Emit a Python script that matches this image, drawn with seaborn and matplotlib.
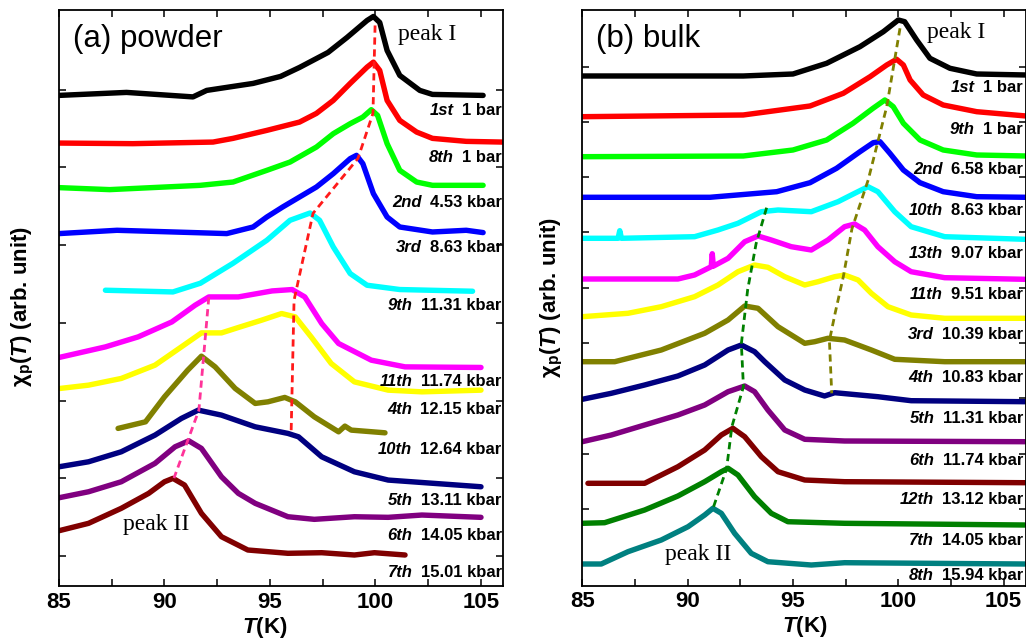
import numpy as np
import pandas as pd
import matplotlib
matplotlib.use("Agg")
import matplotlib.pyplot as plt
import seaborn as sns
from matplotlib.offsetbox import TextArea, HPacker, AnnotationBbox

# ---------------- data : panel (a) powder ----------------
a_black_T = [85.0, 88.2, 91.35, 92.0, 93.25, 94.2, 95.5, 96.4, 97.75, 98.65, 99.6, 99.9, 100.2, 100.55, 101.15, 102.1, 102.7, 105.1]
a_black_y = [491.5, 494.5, 490, 496.5, 500.5, 503.5, 510.5, 519.5, 534.5, 549.5, 566.5, 570.5, 564.5, 536.5, 511.5, 496.5, 492.5, 491.5]
a_red_T = [85.0, 88.5, 92.3, 93.25, 94.85, 96.4, 97.2, 98.0, 98.8, 99.6, 99.9, 100.2, 100.55, 101.15, 101.95, 102.7, 104.3, 106.0]
a_red_y = [443.8, 443.2, 444.8, 448.5, 456.5, 464.8, 473.5, 486.5, 503.5, 519.8, 524.8, 516.5, 486.5, 466.5, 454.8, 448.5, 445.5, 444.8]
a_green_T = [85.0, 87.4, 91.7, 93.25, 94.85, 95.95, 97.2, 98.0, 98.8, 99.4, 99.8, 100.1, 100.55, 101.15, 101.95, 102.7, 105.1]
a_green_y = [399.2, 397.2, 401.5, 404.8, 416.5, 424.8, 439.8, 453.2, 463.2, 469.8, 477.2, 471.5, 443.2, 416.5, 404.8, 401.5, 401.5]
a_blue_T = [85.0, 87.75, 92.95, 94.2, 94.85, 95.6, 96.4, 97.2, 98.0, 98.8, 99.1, 99.4, 99.9, 100.55, 101.15, 102.7, 104.3, 105.1]
a_blue_y = [353.2, 356.5, 353.2, 359.8, 369.8, 379.8, 389.8, 399.8, 413.2, 428.2, 431.5, 423.2, 393.2, 369.8, 359.8, 354.8, 356.5, 354.2]
a_cyan_T = [87.2, 90.4, 91.7, 93.25, 94.85, 95.95, 96.9, 97.35, 98.0, 98.8, 99.6, 101.15, 104.6]
a_cyan_y = [296.5, 294.8, 303.5, 323.5, 346.5, 366.5, 373.8, 366.5, 339.8, 313.2, 301.5, 297.2, 295.5]
a_magenta_T = [85.0, 87.2, 88.75, 90.35, 91.45, 92.1, 93.5, 95.1, 96.05, 96.65, 97.45, 98.25, 99.8, 101.4, 105.0]
a_magenta_y = [229.2, 239.8, 249.8, 264.8, 281.5, 289.8, 289.8, 295.8, 297.2, 289.8, 263.2, 243.2, 226.5, 219.8, 219.2]
a_yellow_T = [85.05, 86.4, 87.95, 89.55, 90.8, 91.75, 92.7, 93.5, 94.6, 95.55, 96.2, 96.95, 97.9, 99.0, 100.6, 102.2, 105.0]
a_yellow_y = [198.2, 201.5, 208.2, 221.5, 239.8, 253.8, 253.8, 259.2, 266.5, 273.2, 269.8, 249.8, 223.2, 204.8, 196.5, 194.8, 196.5]
a_olive_T = [87.8, 89.1, 90.0, 91.1, 91.75, 92.4, 93.35, 94.3, 94.9, 95.7, 96.2, 97.1, 98.25, 98.55, 98.85, 100.45]
a_olive_y = [158.2, 164.8, 189.8, 216.5, 230.5, 219.8, 198.2, 183.2, 184.8, 189.2, 184.8, 169.8, 154.8, 160.5, 156.5, 153.8]
a_navy_T = [85.0, 86.4, 87.95, 89.55, 90.8, 91.6, 92.7, 94.3, 95.85, 96.35, 97.45, 99.0, 100.6, 105.0]
a_navy_y = [119.8, 124.8, 134.8, 151.5, 168.2, 176.5, 171.5, 159.8, 153.2, 149.8, 129.8, 114.8, 106.5, 99.8]
a_purple_T = [85.0, 86.4, 87.95, 89.55, 90.5, 91.15, 91.75, 92.7, 93.5, 94.3, 95.85, 97.1, 99.0, 100.6, 102.2, 105.0]
a_purple_y = [88.8, 94.8, 104.8, 123.2, 139.8, 145.8, 138.2, 109.8, 93.2, 83.2, 69.8, 67.2, 69.8, 69.2, 71.5, 69.2]
a_maroon_T = [85.0, 86.4, 87.95, 89.25, 90.0, 90.4, 90.95, 91.75, 92.7, 93.95, 95.85, 97.45, 99.0, 99.95, 101.4]
a_maroon_y = [55.8, 63.2, 78.2, 93.2, 104.8, 108.2, 101.5, 73.2, 49.8, 36.5, 33.2, 33.8, 31.5, 33.8, 31.5]

a_peak1_T = [99.98, 99.88, 99.17, 97.04, 96.14, 96.0]
a_peak1_y = [561.5, 473.5, 428.5, 373.5, 286.5, 152.5]
a_peak2_T = [92.1, 91.63, 90.45]
a_peak2_y = [289.5, 176.5, 108.5]

a_run = ["1st", "8th", "2nd", "3rd", "9th", "11th", "4th", "10th", "5th", "6th", "7th"]
a_pressure = ["1 bar", "1 bar", "4.53 kbar", "8.63 kbar", "11.31 kbar", "11.74 kbar",
              "12.15 kbar", "12.64 kbar", "13.11 kbar", "14.05 kbar", "15.01 kbar"]
a_label_y = [476.5, 429.5, 384.5, 339.5, 281.5, 204.8, 177.2, 137.2, 86.5, 51.5, 13.8]
a_colors = ["#000000", "#ff0000", "#00ff00", "#0000ff", "#00ffff", "#ff00ff",
            "#ffff00", "#808000", "#000080", "#800080", "#800000"]

# ---------------- data : panel (b) bulk ----------------
b_black_T = [85.0, 92.64, 95.0, 96.6, 98.18, 99.29, 100.0, 100.3, 100.87, 101.5, 102.45, 103.72, 106.06]
b_black_y = [509.7, 509.7, 511.7, 522.4, 539, 554, 565.7, 564, 545.7, 527.4, 517.4, 511.7, 510.7]
b_red_T = [85.0, 92.64, 95.81, 97.39, 98.66, 99.45, 99.92, 100.24, 100.56, 101.18, 102.13, 103.72, 106.06]
b_red_y = [469, 470.7, 479.7, 492.4, 509, 520.7, 526.4, 520.7, 505.7, 490.7, 480.7, 474, 469.7]
b_green_T = [85.0, 92.64, 95.0, 96.6, 97.85, 98.8, 99.36, 99.76, 100.24, 101.03, 102.13, 103.72, 106.06]
b_green_y = [429, 429.7, 435.7, 445.7, 462.4, 477.4, 485.7, 479, 462.4, 445.7, 435.7, 430.7, 429.7]
b_blue_T = [85.0, 91.06, 94.23, 95.81, 97.07, 98.18, 98.81, 99.13, 99.6, 100.24, 101.03, 102.13, 103.72, 106.06]
b_blue_y = [388.4, 388.4, 394, 403, 417.4, 434, 443, 444, 432.4, 415.7, 403, 394, 389, 388.4]
b_cyan_T = [85.0, 86.7, 86.78, 86.86, 90.33, 91.44, 92.39, 93.5, 94.29, 95.87, 97.14, 97.93, 98.56, 99.03, 99.83, 100.61, 102.2, 106.0]
b_cyan_y = [347.4, 347.4, 355, 347.4, 349, 355.7, 362.4, 374, 375.7, 374, 384, 392.4, 399, 394, 374, 359, 349, 346.4]
b_magenta_T = [85.0, 89.54, 90.33, 91.12, 91.17, 91.22, 91.92, 92.71, 93.34, 93.97, 94.92, 95.87, 96.66, 97.45, 97.93, 98.4, 99.03, 99.83, 100.61, 102.2, 106.0]
b_magenta_y = [306.7, 306.7, 310.7, 319, 332, 319.5, 327.4, 344, 349.7, 345.7, 339, 335.7, 345.7, 359, 361.7, 355.7, 339, 324, 314, 308, 306.4]
b_yellow_T = [85.0, 87.17, 88.75, 90.33, 91.44, 92.39, 93.18, 93.81, 94.61, 95.56, 96.19, 96.98, 97.45, 98.09, 98.72, 99.51, 100.61, 102.2, 106.0]
b_yellow_y = [269, 272.4, 279, 289, 300.7, 314, 320.7, 318.4, 309, 300.7, 304, 309, 310.7, 305.7, 292.4, 279, 270.7, 267.4, 267.4]
b_olive_T = [85.0, 86.54, 88.75, 90.81, 91.92, 92.71, 93.34, 94.29, 95.56, 96.03, 96.66, 97.45, 98.72, 99.83, 102.2, 106.0]
b_olive_y = [224, 224, 235.7, 252.4, 265.7, 279.7, 277.4, 259, 242.4, 244, 247.4, 245.7, 235.7, 226.4, 224, 224]
b_navy_T = [85.0, 86.38, 87.96, 89.54, 90.81, 91.92, 92.55, 93.18, 93.66, 94.61, 95.56, 96.5, 96.98, 99.03, 100.61, 106.0]
b_navy_y = [186.4, 192.4, 200.7, 209.7, 220.7, 235.7, 240.7, 234, 224, 205.7, 195.7, 189.7, 193, 189, 185, 184]
b_purple_T = [85.0, 86.38, 87.96, 89.54, 90.81, 91.92, 92.71, 93.18, 93.81, 94.61, 95.56, 97.45, 106.0]
b_purple_y = [144, 150.7, 160.7, 170.7, 180.7, 194, 199.7, 194, 175.7, 155.7, 146.4, 144.7, 144]
b_maroon_T = [85.27, 87.96, 89.54, 90.81, 91.6, 92.15, 92.71, 93.5, 94.29, 95.56, 97.45, 106.0]
b_maroon_y = [102.4, 102.4, 119, 135.7, 150.7, 157.4, 149, 129, 114, 105.7, 104, 103]
b_dgreen_T = [85.0, 86.06, 87.96, 89.54, 90.81, 91.6, 91.92, 92.39, 93.18, 93.97, 94.76, 97.45, 106.0]
b_dgreen_y = [62.4, 63, 75.7, 89.7, 104, 114, 117.4, 110.7, 89, 72.4, 64, 62.4, 60.7]
b_teal_T = [85.0, 85.9, 87.17, 88.75, 90.02, 90.81, 91.2, 91.6, 92.23, 93.02, 93.81, 95.87, 97.45, 106.0]
b_teal_y = [21.7, 21.7, 34, 45.7, 59, 70.7, 77.4, 72.4, 52.4, 32.4, 24, 20.7, 23, 21.7]

b_peak1_T = [100.08, 99.45, 98.57, 97.8, 97.39, 97.0, 96.73, 96.84]
b_peak1_y = [557.4, 479, 405.7, 357, 309, 272.4, 245, 192.4]
b_peak2_T = [93.75, 93.25, 92.85, 92.55, 92.65, 92.1, 91.85, 91.2]
b_peak2_y = [378, 342, 296, 242, 199, 159, 117, 77]

b_run = ["1st", "9th", "2nd", "10th", "13th", "11th", "3rd", "4th", "5th", "6th", "12th", "7th", "8th"]
b_pressure = ["1 bar", "1 bar", "6.58 kbar", "8.63 kbar", "9.07 kbar", "9.51 kbar", "10.39 kbar",
              "10.83 kbar", "11.31 kbar", "11.74 kbar", "13.12 kbar", "14.05 kbar", "15.94 kbar"]
b_label_y = [498.4, 455.7, 415.7, 375, 331.7, 290.7, 250.7, 208.4, 167.4, 125.7, 86.4, 45, 10.7]
b_colors = ["#000000", "#ff0000", "#00ff00", "#0000ff", "#00ffff", "#ff00ff", "#ffff00",
            "#808000", "#000080", "#800080", "#800000", "#008000", "#008080"]

a_curves = [(a_black_T, a_black_y), (a_red_T, a_red_y), (a_green_T, a_green_y), (a_blue_T, a_blue_y),
            (a_cyan_T, a_cyan_y), (a_magenta_T, a_magenta_y), (a_yellow_T, a_yellow_y),
            (a_olive_T, a_olive_y), (a_navy_T, a_navy_y), (a_purple_T, a_purple_y), (a_maroon_T, a_maroon_y)]
b_curves = [(b_black_T, b_black_y), (b_red_T, b_red_y), (b_green_T, b_green_y), (b_blue_T, b_blue_y),
            (b_cyan_T, b_cyan_y), (b_magenta_T, b_magenta_y), (b_yellow_T, b_yellow_y),
            (b_olive_T, b_olive_y), (b_navy_T, b_navy_y), (b_purple_T, b_purple_y),
            (b_maroon_T, b_maroon_y), (b_dgreen_T, b_dgreen_y), (b_teal_T, b_teal_y)]

# ---------------- style ----------------
sns.set_theme(style="ticks")
plt.rcParams["font.family"] = ["Liberation Sans", "DejaVu Sans"]
plt.rcParams["text.color"] = "black"
plt.rcParams["axes.labelcolor"] = "black"
plt.rcParams["xtick.color"] = "black"
plt.rcParams["ytick.color"] = "black"
plt.rcParams["axes.edgecolor"] = "black"
plt.rcParams["mathtext.fontset"] = "custom"
plt.rcParams["mathtext.rm"] = "Liberation Sans:bold"
plt.rcParams["mathtext.it"] = "Liberation Sans:italic:bold"
plt.rcParams["mathtext.bf"] = "Liberation Sans:bold"

fig = plt.figure(figsize=(10.26, 6.39), dpi=100)
ax_a = fig.add_axes([0.0575, 0.0822, 0.4327, 0.9014])
ax_b = fig.add_axes([0.5675, 0.0834, 0.4325, 0.9005])

LW = 3.9


def draw_panel(ax, curves, colors, peak1, peak2, c1, c2, xmax, ymax, yticks,
               runs, pressures, label_y, label_x, title, p1pos, p2pos, xlab_x, ylab_pos):
    for (T, y), c in zip(curves, colors):
        df = pd.DataFrame({"T": T, "chi": y})
        sns.lineplot(data=df, x="T", y="chi", ax=ax, color=c, linewidth=LW,
                     sort=False, estimator=None, legend=False, solid_capstyle="round",
                     solid_joinstyle="round")
    for (T, y), c in [(peak1, c1), (peak2, c2)]:
        df = pd.DataFrame({"T": T, "chi": y})
        sns.lineplot(data=df, x="T", y="chi", ax=ax, color=c, linewidth=2.0,
                     sort=False, estimator=None, legend=False)
        ax.lines[-1].set_linestyle((0, (2.6, 1.7)))
    ax.set_xlim(85, xmax)
    ax.set_ylim(0, ymax)
    ax.set_xticks([85, 90, 95, 100, 105])
    ax.set_xticks([87.5, 92.5, 97.5, 102.5], minor=True)
    ax.set_yticks(yticks)
    ax.set_yticklabels([])
    ax.tick_params(which="both", direction="in", top=True, right=True, width=1.1, length=5,
                   color="black", labelcolor="black")
    ax.tick_params(axis="x", which="major", labelsize=16, pad=4)
    for lab in ax.get_xticklabels():
        lab.set_fontweight("bold")
    for s in ax.spines.values():
        s.set_linewidth(1.3)
        s.set_color("black")
    ax.set_xlabel("")
    ax.set_ylabel("")
    ax.text(xlab_x, -0.0715, r"$T$(K)", transform=ax.transAxes, ha="center", va="center",
            fontsize=16, fontweight="bold", color="black")
    ax.text(ylab_pos[0], ylab_pos[1], r"$\mathrm{\chi_p(}T\mathrm{)}$ (arb. unit)",
            transform=ax.transAxes, rotation=90, ha="center", va="center",
            fontsize=16, fontweight="bold", color="black")
    ax.text(0.031, 0.95, title, transform=ax.transAxes, ha="left", va="center",
            fontsize=22.5, family="Liberation Sans", color="black")
    ax.text(p1pos[0], p1pos[1], "peak I", ha="left", va="baseline",
            fontsize=17, family="Liberation Serif", color="black")
    ax.text(p2pos[0], p2pos[1], "peak II", ha="left", va="baseline",
            fontsize=17, family="Liberation Serif", color="black")
    for r, p, yy in zip(runs, pressures, label_y):
        t1 = TextArea(r, textprops=dict(fontsize=12, fontweight="bold", fontstyle="italic",
                                        family="Liberation Sans", color="black"))
        t2 = TextArea(p, textprops=dict(fontsize=12, fontweight="bold",
                                        family="Liberation Sans", color="black"))
        box = HPacker(children=[t1, t2], align="baseline", pad=0, sep=6)
        ab = AnnotationBbox(box, (label_x, yy), xycoords="data", box_alignment=(1, 0.5),
                            frameon=False, pad=0, annotation_clip=False)
        ab.set_zorder(6)
        ax.add_artist(ab)


draw_panel(ax_a, a_curves, a_colors, (a_peak1_T, a_peak1_y), (a_peak2_T, a_peak2_y),
           "#ff1a1a", "#ff3399", 106.04, 576.5, 30.5 + 77.8 * np.arange(7),
           a_run, a_pressure, a_label_y, 105.98, "(a) powder",
           (101.07, 546.5), (88.05, 56.5), 0.464, (-0.081, 0.4866))
draw_panel(ax_b, b_curves, b_colors, (b_peak1_T, b_peak1_y), (b_peak2_T, b_peak2_y),
           "#808000", "#008000", 106.06, 575.4, 21.4 + 55.3 * np.arange(10),
           b_run, b_pressure, b_label_y, 105.92, "(b) bulk",
           (101.35, 547.4), (88.92, 25.7), 0.502, (-0.069, 0.5017))

fig.savefig("out.png", dpi=100)
